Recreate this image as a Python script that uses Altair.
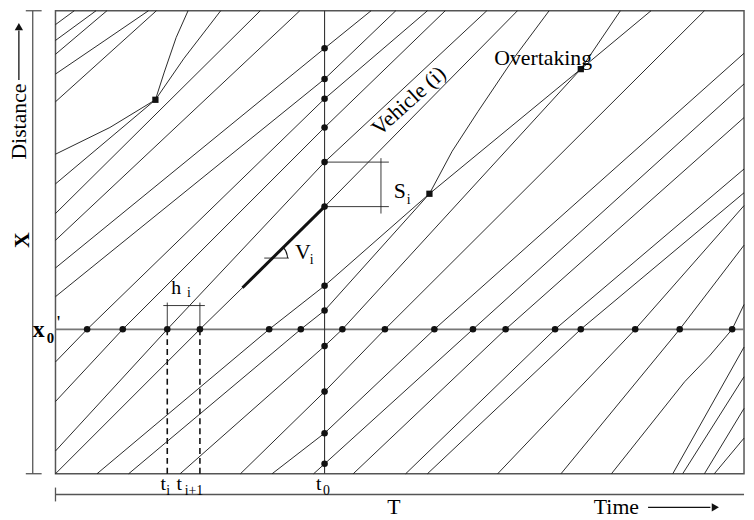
import altair as alt
import pandas as pd

# ---- vehicle trajectories: time t (0..696), distance d (0..468)
traj = {
    "U1": ([0, 19], [454, 468]),
    "U2": ([0, 41], [438, 468]),
    "U3": ([0, 52], [424, 468]),
    "U4": ([0, 50, 94], [404, 438, 468]),
    "U5": ([0, 102], [376, 468]),
    "U6": ([0, 55, 101, 130, 167], [323, 350, 378, 420, 468]),
    "U7": ([0, 101, 110, 122, 134], [293, 378, 406, 441, 468]),
    "U8": ([0, 207], [263, 468]),
    "U9": ([0, 247], [236, 468]),
    "U10": ([0, 272, 319], [208, 430, 468]),
    "U11": ([0, 272, 344], [179, 399, 468]),
    "A": ([0, 32, 272, 376], [113, 146, 379, 468]),
    "B": ([0, 68, 272, 394], [73, 146, 350, 468]),
    "C": ([0, 113, 272, 436], [23, 146, 315, 468]),
    "D": ([0, 146, 189, 272, 467], [0, 146, 188, 270, 468]),
    "E": ([42, 216, 272, 378, 531, 602], [0, 146, 190, 283, 409, 468]),
    "F": ([74, 248, 272, 378, 401, 427, 464, 499], [0, 146, 165, 283, 326, 366, 421, 468]),
    "G": ([126, 272, 290, 531, 571], [0, 129, 146, 409, 468]),
    "H": ([187, 272, 333, 656], [0, 83, 146, 468]),
    "I": ([219, 272, 383, 696], [0, 41, 146, 425]),
    "J": ([261, 272, 422, 696], [0, 10, 146, 394]),
    "K": ([301, 455, 696], [0, 146, 360]),
    "L": ([354, 505, 696], [0, 146, 308]),
    "M": ([376, 531, 696], [0, 146, 284]),
    "N": ([447, 586, 696], [0, 146, 271]),
    "O": ([511, 631, 696], [0, 146, 231]),
    "P": ([562, 636, 661, 684, 696], [0, 93, 119, 146, 171]),
    "Q": ([624, 696], [0, 128]),
    "R": ([634, 696], [0, 98]),
    "S": ([656, 696], [0, 66]),
    "T": ([666, 696], [0, 36]),
}

# observation lines
x0_level = 146          # distance of the observation point x0'
t0_time = 272           # time of the snapshot t0

# passages at x0' (times) and positions at t0 (distances)
passage_times = [32, 68, 113, 146, 216, 248, 290, 333, 383, 422, 455, 505, 531, 586, 631, 684]
snapshot_dists = [430, 399, 379, 350, 315, 270, 190, 165, 129, 83, 41, 10]

# overtaking points
overtake_t = [101, 378, 531]
overtake_d = [378, 283, 409]

# headway h_i between t_i and t_i+1, spacing S_i, speed V_i
t_i, t_i1 = 113, 146
veh_i_seg_t = [189, 272]
veh_i_seg_d = [188, 270]

# ---------------------------------------------------------------
rows = []
for name, (ts, ds) in traj.items():
    for k, (t, d) in enumerate(zip(ts, ds)):
        rows.append({"veh": name, "t": t, "d": d, "o": k})
traj_df = pd.DataFrame(rows)

XS = alt.Scale(domain=[0, 696], nice=False, zero=False)
YS = alt.Scale(domain=[0, 468], nice=False, zero=False)


def pos(tf="t", df="d"):
    return dict(x=alt.X(f"{tf}:Q", scale=XS, axis=None),
                y=alt.Y(f"{df}:Q", scale=YS, axis=None))


def segs(lst):
    return pd.DataFrame(lst, columns=["t", "d", "t2", "d2"])


def rule_layer(df, **style):
    return alt.Chart(df).mark_rule(**style).encode(
        **pos(), x2="t2:Q", y2="d2:Q")


lines = alt.Chart(traj_df).mark_line(color="#111", strokeWidth=0.9).encode(
    **pos(), detail="veh:N", order="o:Q")

ref_h = rule_layer(segs([[0, x0_level, 696, x0_level]]), color="#777", strokeWidth=1.8)
ref_v = rule_layer(segs([[t0_time, 0, t0_time, 468]]), color="#333", strokeWidth=1.1)

thin = rule_layer(segs([
    [109, 170, 151, 170], [t_i, 173, t_i, x0_level], [t_i1, 173, t_i1, x0_level],
    [t0_time, 315, 337, 315], [t0_time, 270, 337, 270], [329, 319, 329, 263],
    [211, 218, 236, 218],
]), color="#222", strokeWidth=0.9)

frame_axes = rule_layer(segs([
    [-23, 0, -23, 468], [-30, 468, -14, 468], [-30, 0, -14, 0],
    [0, -21, 696, -21], [0, -14, 0, -28],
]), color="#555", strokeWidth=1.3)

arrows = rule_layer(segs([
    [-37, 398, -37, 448], [599, -34, 662, -34],
]), color="#111", strokeWidth=1.3)

dashed = rule_layer(segs([[t_i, x0_level, t_i, 0], [t_i1, x0_level, t_i1, 0]]),
                    color="#111", strokeWidth=1.6, strokeDash=[6, 4])

thick = alt.Chart(pd.DataFrame({"t": veh_i_seg_t, "d": veh_i_seg_d})).mark_line(
    color="#111", strokeWidth=3).encode(**pos())

angle_arc = alt.Chart(pd.DataFrame({"t": [219], "d": [218]})).mark_arc(
    radius=16, radius2=15, theta=0.785, theta2=1.571, color="#111").encode(**pos())

dots_df = pd.DataFrame(
    [{"t": t, "d": x0_level} for t in passage_times]
    + [{"t": t0_time, "d": d} for d in snapshot_dists])
dots = alt.Chart(dots_df).mark_circle(size=44, color="#111", opacity=1).encode(**pos())

ov = alt.Chart(pd.DataFrame({"t": overtake_t, "d": overtake_d})).mark_point(
    shape="square", filled=True, size=40, color="#111", opacity=1).encode(**pos())

head_up = alt.Chart(pd.DataFrame({"t": [-37], "d": [452]})).mark_point(
    shape="triangle-up", filled=True, size=70, color="#111", opacity=1).encode(**pos())
head_right = alt.Chart(pd.DataFrame({"t": [667], "d": [-34]})).mark_point(
    shape="triangle-right", filled=True, size=70, color="#111", opacity=1).encode(**pos())

labels = pd.DataFrame([
    # label, t, d, size, angle
    ("Distance", -37, 356, 22, 270),
    ("T", 342, -34, 22, 0),
    ("Time", 567, -34, 22, 0),
    ("S", 348, 286, 22, 0),
    ("i", 357, 277, 14, 0),
    ("V", 250, 224, 22, 0),
    ("i", 259, 216, 14, 0),
    ("Overtaking", 493, 420, 22, 0),
    ("Vehicle (i)", 357, 377, 22, 318),
    ("t", 109, -10, 20, 0),
    ("i", 114, -18, 14, 0),
    ("t", 125, -10, 20, 0),
    ("i+1", 140, -18, 14, 0),
    ("t", 266, -10, 20, 0),
    ("0", 274, -17, 14, 0),
    ("h", 122, 188, 20, 0),
    ("i", 135, 183, 14, 0),
    ("'", 3, 152, 20, 0),
], columns=["label", "t", "d", "size", "angle"])

texts = alt.Chart(labels).mark_text(
    font="Liberation Serif", color="#000", baseline="middle", align="center").encode(
    **pos(), text="label:N", size=alt.Size("size:Q", scale=None),
    angle=alt.Angle("angle:Q", scale=None))

blab = pd.DataFrame([("x", -17, 145, 24, 0), ("0", -5, 137, 15, 0),
                     ("X", -34, 236, 22, 270)],
                    columns=["label", "t", "d", "size", "angle"])
btexts = alt.Chart(blab).mark_text(
    font="Liberation Serif", fontWeight="bold", color="#000", baseline="middle",
    align="center").encode(**pos(), text="label:N",
                           size=alt.Size("size:Q", scale=None),
                           angle=alt.Angle("angle:Q", scale=None))

chart = alt.layer(
    lines, ref_h, ref_v, thin, frame_axes, arrows, dashed, thick, angle_arc,
    dots, ov, head_up, head_right, texts, btexts,
).properties(
    width=696, height=468,
    padding={"left": 48, "top": 0, "right": 2, "bottom": 44},
    autosize=alt.AutoSizeParams(type="none"),
    background="white",
).configure_view(stroke="#555", strokeWidth=1.5)

chart.save("out.html", embed_options={"renderer": "svg", "actions": False})
